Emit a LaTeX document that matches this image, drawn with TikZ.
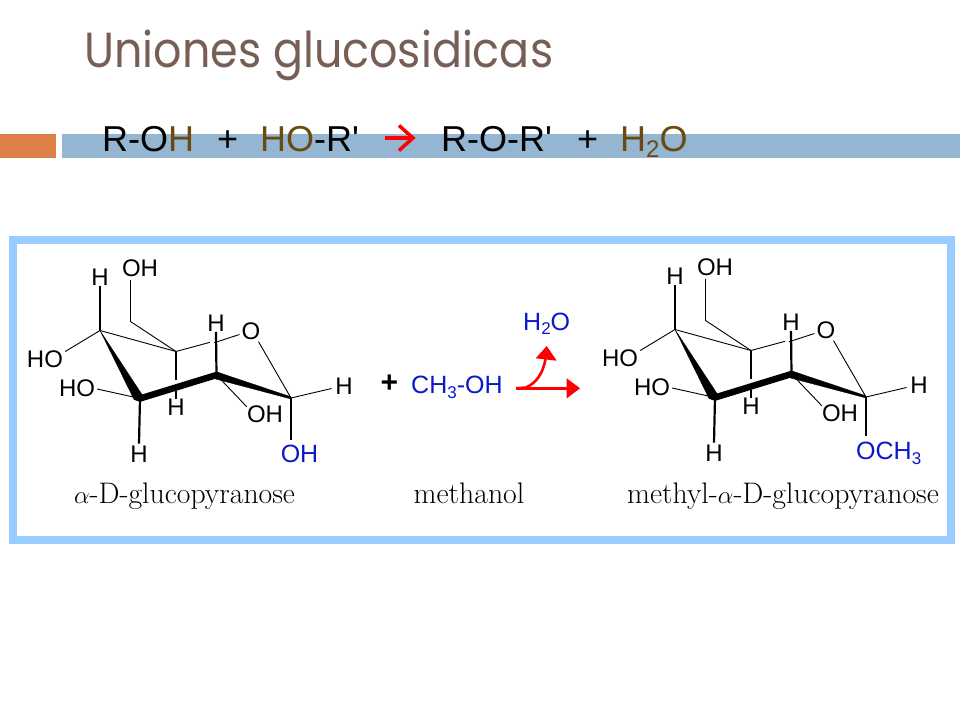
\documentclass[tikz,border=0pt]{standalone}
\usepackage{fontspec}
\setmainfont{Liberation Sans}[Ligatures=TeXOff]
\newfontfamily\titlefont{Poppins}
\newfontfamily\lmfont{Latin Modern Roman}
\definecolor{titlebrown}{HTML}{775F55}
\definecolor{orangebar}{HTML}{DD8047}
\definecolor{bluebar}{HTML}{94B6D2}
\definecolor{framebl}{HTML}{99CCFF}
\definecolor{eqbrown}{HTML}{6B4A10}
\definecolor{molblue}{HTML}{0B18C8}
\tikzset{
  atom/.style={inner sep=0pt,font=\fontsize{24}{26}\selectfont,text=black},
  bluatom/.style={atom,font=\fontsize{25}{27}\selectfont,text=molblue},
  thinb/.style={line width=0.9pt,black},
  medb/.style={line width=2.2pt,black},
  wedge/.style={fill=black,draw=black,line width=0.3pt,line join=round},
  caption/.style={inner sep=0pt,anchor=base,font=\lmfont\fontsize{29.7}{32}\selectfont,text=black},
  eq/.style={inner sep=0pt,anchor=base west,font=\fontsize{36}{40}\selectfont},
  redarrow/.style={draw=red,line width=2.6pt}
}
% #1 prefix, #2 x shift, #3 y shift
\newcommand{\chair}[3]{%
\begin{scope}[shift={(#2,#3)}]
 \coordinate (#1c4) at (100,330.5);
 \coordinate (#1c5) at (176,351.5);
 \coordinate (#1c3) at (140,398.5);
 \coordinate (#1c2) at (216.5,375);
 \coordinate (#1c1) at (291,398);
 \coordinate (#1c6) at (130.5,321.5);
 \coordinate (#1j) at (210,342.3);
 \coordinate (#1u) at (176,380);
 \coordinate (#1v) at (176,391);
 \node[atom] (#1o) at (251,331.5) {O};
 \node[atom] (#1oh6) at (140,268.5) {OH};
 \node[atom] (#1h4) at (100,277.5) {H};
 \node[atom] (#1ho4) at (45,359.5) {HO};
 \node[atom] (#1ho3) at (77,388) {HO};
 \node[atom] (#1h5) at (176,407.5) {H};
 \node[atom] (#1h2) at (216,323.5) {H};
 \node[atom] (#1oh2) at (265,414.5) {OH};
 \node[atom] (#1h1) at (344,386.5) {H};
 \node[atom] (#1h3) at (139,454) {H};
 \draw[thinb] (#1c4) -- (#1c5);
 \draw[thinb] (#1c5) -- (#1c6);
 \draw[medb,line width=1.6pt] (#1c6) -- ([yshift=-3pt]#1c6|-#1oh6.south);
 \draw[thinb] (#1c4) -- ([xshift=2pt,yshift=8pt]#1ho4.east);
 \draw[thinb] (#1c3) -- ([xshift=2pt,yshift=-1pt]#1ho3.east);
 \draw[medb] (#1c4) -- (#1h4.south);
 \draw[medb] (#1c5) -- (#1u);
 \draw[medb] (#1v) -- (#1h5.north);
 \draw[medb] (#1c3) -- ([yshift=2pt]#1h3.north);
 \draw[medb] (#1c2) -- (#1h2.south);
 \draw[thinb] (#1c2) -- ([yshift=-1pt]#1oh2.north west);
 \draw[thinb] (#1c5) -- (#1j);
 \draw[thinb] (#1c1) -- ([xshift=-3.6pt,yshift=-2pt]#1h1.west);
 \draw[thinb] ([xshift=4pt,yshift=-0.5pt]#1j) -- ([xshift=-2pt,yshift=-3pt]#1o.west);
 \draw[thinb] ([xshift=-2pt,yshift=-1.5pt]#1o.south east) -- (#1c1);
 \fill[wedge] (#1c4) -- (134,399.5) -- (138,401) -- (143,396) -- cycle;
 \draw[line width=6.5pt,black,line cap=round] (#1c3) -- (#1c2);
 \fill[wedge] (216.5,371.8) -- (291,396.8) -- (291,399) -- (215.5,379) -- cycle;
\end{scope}}
\begin{document}
\begin{tikzpicture}[x=1pt,y=-1pt]
\useasboundingbox (0,0) rectangle (960,720);
\fill[white] (0,0) rectangle (960,720);
% header
\node[inner sep=0pt,anchor=base west,text=titlebrown] (title) at (84,67.5) {\resizebox{469pt}{37.5pt}{\titlefont\fontsize{50}{54}\selectfont Uniones glucosidicas}};
\fill[orangebar] (0,134) rectangle (56,158);
\fill[bluebar] (62,134) rectangle (960,158);
\node[eq] (eq1) at (102,151) {R-O\textcolor{eqbrown}{H}};
\node[eq] (eqp1) at (217,151) {+};
\node[eq] (eq2) at (260,151) {\textcolor{eqbrown}{HO}-R'};
\coordinate (eqa) at (385,138);
\coordinate (eqb) at (412,138);
\draw[red,line width=3.5pt] (eqa) -- (eqb);
\draw[red,line width=3.5pt,line join=miter] (399,125.5) -- (413,138) -- (399,150.5);
\node[eq] (eq3) at (441,151) {R-O-R'};
\node[eq] (eqp2) at (577,151) {+};
\node[eq] (eq4) at (620,151) {\textcolor{eqbrown}{H\raisebox{-6pt}{\fontsize{24}{26}\selectfont 2}O}};
% frame
\draw[framebl,line width=8pt] (13,239.5) rectangle (951,540);
\chair{a}{0}{0}
\node[bluatom] (aoh1) at (299.5,453.5) {OH};
\draw[medb] (ac1) -- ([yshift=4pt]ac1|-aoh1.north);
\node[caption] (cap1) at (184.5,503.5) {$\alpha$-D-glucopyranose};
% middle
\node[inner sep=0pt,font=\bfseries\fontsize{30}{32}\selectfont] (plus) at (389.5,384) {+};
\node[bluatom,anchor=base west] (meoh) at (411,393.5) {CH\raisebox{-4.5pt}{\fontsize{17}{18}\selectfont 3}-OH};
\node[bluatom,anchor=base west] (wat) at (523,330) {H\raisebox{-4.5pt}{\fontsize{17}{18}\selectfont 2}O};
\coordinate (rs) at (516,388.3);
\coordinate (rc) at (567,388.3);
\coordinate (rup) at (545.7,358);
\draw[redarrow] (rs) -- (rc);
\fill[red] (580,388.3) -- (566.7,378.3) -- (566.7,398.3) -- cycle;
\draw[redarrow] (rs) -- (526,387.5) .. controls (536,383) and (543,374) .. (rup);
\fill[red] (546.7,346) -- (535.7,358.3) -- (556.7,360.7) -- cycle;
\node[caption] (cap2) at (469,503.5) {methanol};
% right molecule
\chair{b}{575}{-1}
\node[bluatom,anchor=west] (boch) at (856,453.5) {OCH\raisebox{-4.5pt}{\fontsize{17}{18}\selectfont 3}};
\draw[medb] (bc1) -- ([yshift=6pt]bc1|-boch.north);
\node[caption] (cap3) at (783,503.5) {methyl-$\alpha$-D-glucopyranose};
\end{tikzpicture}
\end{document}
